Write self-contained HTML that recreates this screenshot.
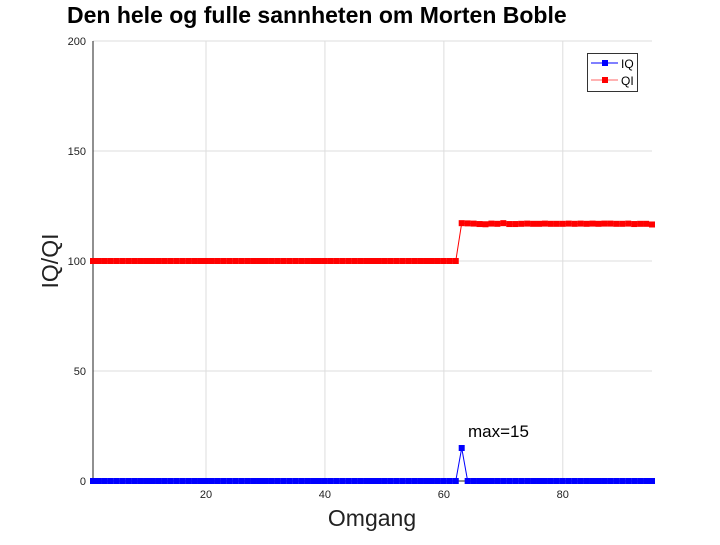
<!DOCTYPE html>
<html><head><meta charset="utf-8"><style>
body{margin:0;background:#fff}
svg text{font-family:"Liberation Sans",sans-serif}
</style></head><body>
<svg id="c" width="720" height="540" xmlns="http://www.w3.org/2000/svg">
<text x="67" y="23" font-size="23" font-weight="bold">Den hele og fulle sannheten om Morten Boble</text>
<g id="grid"></g><g id="axes"></g><g id="series"></g>
<text x="372" y="526" font-size="23" text-anchor="middle" fill="#222">Omgang</text>
<text transform="translate(58,261) rotate(-90)" font-size="23" text-anchor="middle" fill="#222">IQ/QI</text>
<text x="468" y="437" font-size="17">max=15</text>
<g>
<rect x="587.5" y="53.5" width="50" height="38" fill="#fff" stroke="#333"/>
<line x1="591" y1="63" x2="618" y2="63" stroke="#00f"/><rect x="602" y="60" width="6" height="6" fill="#00f"/>
<text x="621" y="68" font-size="12">IQ</text>
<line x1="591" y1="80" x2="618" y2="80" stroke="#f00" opacity="0.6"/><rect x="602" y="77" width="6" height="6" fill="#f00"/>
<text x="621" y="85" font-size="12">QI</text>
</g>
</svg>
<script>
const xTicks=[20,40,60,80];
const yTicks=[0,50,100,150,200];
const iqValues=[];for(let i=1;i<=95;i++)iqValues.push(i===63?15:0);
const qiAfter=[117.2,117.1,117,116.8,116.7,117,116.9,117.2,116.8,116.8,116.9,117,116.9,116.9,117,116.9,116.9,116.9,117,116.9,117,116.9,117,116.9,117,117,116.9,116.9,117,116.8,116.9,116.9,116.6];
const qiValues=[];for(let i=1;i<=62;i++)qiValues.push(100);qiValues.push(...qiAfter);
const X0=93,X1=652,Y0=481,Y1=41;
const sx=v=>X0+(v-1)/(95-1)*(X1-X0);
const sy=v=>Y0-(v/200)*(Y0-Y1);
const NS="http://www.w3.org/2000/svg";
function mk(tag,attrs,parent){const e=document.createElementNS(NS,tag);for(const k in attrs)e.setAttribute(k,attrs[k]);document.getElementById(parent).appendChild(e);return e;}
xTicks.forEach(t=>{const l=mk('line',{x1:sx(t),x2:sx(t),y1:Y1,y2:Y0,stroke:'#ddd'},'grid');


const tx=mk('text',{x:sx(t),y:Y0+17,'font-size':11,'text-anchor':'middle',fill:'#222'},'axes');tx.textContent=t;

});
yTicks.forEach(t=>{const l=mk('line',{x1:X0,x2:X1,y1:sy(t),y2:sy(t),stroke:'#ddd'},'grid');


const tx=mk('text',{x:X0-7,y:sy(t)+4,'font-size':11,'text-anchor':'end',fill:'#222'},'axes');tx.textContent=t;

});
const ax=mk('path',{d:`M${X0} ${Y1}V${Y0}H${X1}`,fill:'none',stroke:'#222'},'axes');


function series(vals,color,name){
const pl=mk('polyline',{points:vals.map((v,i)=>sx(i+1)+','+sy(v)).join(' '),fill:'none',stroke:color},'series');


vals.forEach((v,i)=>{const r=mk('rect',{x:sx(i+1)-3,y:sy(v)-3,width:6,height:6,fill:color},'series');

});}
series(qiValues,'#f00','qi');
series(iqValues,'#00f','iq');
</script>
</body></html>
